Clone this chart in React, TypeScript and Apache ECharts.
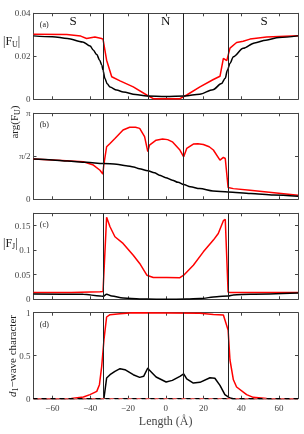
import React, { useEffect, useRef } from "react";
import * as echarts from "echarts";

// ---- data ----
const boundaries = [-33, -9.5, 9.5, 33];
const xTicks = [-60, -40, -20, 0, 20, 40, 60];

const fuBlack = [[-70,0.0295],[-60,0.0291],[-52,0.0283],[-44,0.0267],[-40,0.0248],[-38.4,0.0229],[-36.5,0.0208],[-35,0.0182],[-33.8,0.0158],[-33.2,0.0135],[-32.2,0.0097],[-31,0.0072],[-29.5,0.0057],[-26,0.0043],[-22.5,0.0034],[-16,0.0022],[-10,0.0015],[0,0.0013],[10,0.0015],[18,0.0024],[25,0.0045],[29.5,0.0073],[31.5,0.0098],[32.6,0.0135],[34,0.0167],[35.8,0.0198],[41,0.0237],[47,0.0262],[53,0.0275],[60,0.0288],[70,0.0295]];
const fuRed = [[-70,0.0303],[-52.4,0.0301],[-45,0.0294],[-41.9,0.0283],[-37.5,0.029],[-34,0.0283],[-33.2,0.028],[-31.3,0.0182],[-28.6,0.0105],[-24.2,0.0086],[-17.2,0.0058],[-10.1,0.002],[-6.6,0.0003],[7.5,0.0003],[11.1,0.002],[18.1,0.0058],[25.2,0.0092],[28.7,0.0107],[30.5,0.019],[32.3,0.018],[34,0.0238],[37.5,0.0264],[41,0.027],[44.6,0.028],[53.4,0.029],[70,0.0296]];

const argBlack = [[-70,1.47],[-60,1.44],[-52,1.40],[-42,1.35],[-33,1.31],[-26,1.28],[-21,1.23],[-17,1.18],[-14,1.12],[-9.5,1.04],[-6,0.97],[-3.4,0.88],[0,0.79],[3.5,0.70],[6.5,0.62],[9.5,0.54],[13,0.46],[18,0.39],[25,0.305],[33,0.27],[45,0.21],[57,0.16],[70,0.11]];
const argRed = [[-70,1.47],[-55,1.42],[-43.6,1.37],[-38.3,1.25],[-34.8,1.06],[-33.3,0.92],[-32.8,1.25],[-31.3,1.92],[-29.5,2.04],[-26.9,2.22],[-22.6,2.53],[-19.1,2.63],[-16,2.63],[-13.8,2.59],[-11.2,2.29],[-9.5,1.74],[-8.6,1.98],[-5.1,2.16],[-1.7,2.2],[1,2.18],[3.5,2.10],[7.5,1.80],[9.5,1.55],[11.1,1.86],[14.6,2.02],[17,2.03],[19.9,2.0],[23,1.92],[25.2,1.80],[28.7,1.43],[30.5,1.53],[31.5,1.49],[33,0.43],[35.8,0.39],[44.6,0.33],[70,0.15]];

const fjBlack = [[-70,0.0109],[-43.6,0.0102],[-34.8,0.0068],[-33.2,0.0061],[-31.3,0.0102],[-28.6,0.0068],[-22.6,0.0027],[-13.8,0.0007],[-10,0.0004],[0,0.0003],[11,0.0004],[18.1,0.0014],[27,0.0054],[33,0.0068],[35.8,0.0088],[45,0.0105],[70,0.0129]];
const fjRed = [[-70,0.0136],[-50,0.0138],[-34.8,0.0156],[-33.2,0.016],[-31.3,0.1668],[-29.5,0.1477],[-26.9,0.1273],[-22.6,0.1137],[-17.2,0.0898],[-13.8,0.0729],[-10,0.049],[-6.6,0.0442],[0.5,0.0446],[7.5,0.044],[9.5,0.049],[14.6,0.0694],[19.9,0.0966],[25.2,0.1205],[27.8,0.134],[30.5,0.16],[31.5,0.1627],[33,0.015],[34,0.0136],[70,0.014]];

const dBlack = [[-70,0],[-33.2,0],[-32.7,0.005],[-31.3,0.24],[-29.5,0.279],[-26.9,0.318],[-24.2,0.349],[-21.6,0.337],[-17.2,0.279],[-13.8,0.248],[-11.7,0.26],[-9.5,0.357],[-8.6,0.33],[-5.1,0.252],[0.2,0.194],[3.5,0.213],[7.5,0.26],[9.5,0.29],[11.1,0.23],[14.6,0.182],[18.1,0.19],[23.4,0.244],[26,0.238],[28.7,0.155],[31.3,0.047],[34,0.008],[35.8,0],[70,0]];
const dRed = [[-70,0],[-50,0.002],[-43.6,0.02],[-40.1,0.047],[-36.5,0.085],[-35.1,0.163],[-33.9,0.376],[-32.7,0.686],[-31.3,0.95],[-29.5,0.977],[-24.2,0.988],[-17.2,1.0],[18.1,0.995],[25.2,0.98],[30.5,0.973],[33,0.8],[34,0.45],[35.8,0.22],[37.5,0.136],[42.8,0.047],[46.3,0.016],[53.4,0.003],[70,0]];
const dZeroBlack = [[-70,0],[70,0]];
const dZeroRed = [[-70,0],[70,0]];

const yMax = [0.04, Math.PI, 0.175, 1];
const yTicks = [[0, 0.02, 0.04], [0, Math.PI / 2, Math.PI], [0, 0.05, 0.1, 0.15], [0, 0.5, 1]];
const yTickLabels = [["0", "0.02", "0.04"], ["0", "π/2", "π"], ["0", "0.05", "0.1", "0.15"], ["0", "0.5", "1"]];
const panelLetters = ["(a)", "(b)", "(c)", "(d)"];
const regionLabels = [["S", -49], ["N", 0], ["S", 52]];

const RED = "#ff0000";
const FRAME = "#444";
const FONT = "'Liberation Serif', 'DejaVu Serif', serif";

export default function App() {
  const ref = useRef<HTMLDivElement>(null);
  useEffect(() => {
    if (!ref.current) return;
    const chart = echarts.init(ref.current, undefined, { renderer: "svg" });
    const tops = [13.3, 113.3, 213.3, 312.7];
    const gridH = 86;
    const grids = tops.map((t) => ({ left: 33.5, right: 6, top: t, height: gridH }));
    const xAxes: any[] = [];
    const yAxes: any[] = [];
    for (let pos = 0; pos < 2; pos++) {
      for (let i = 0; i < 4; i++) {
        xAxes.push({
          type: "value", gridIndex: i, min: -70, max: 70,
          position: pos === 0 ? "bottom" : "top",
          axisLine: { show: true, onZero: false, lineStyle: { color: FRAME, width: 1 } },
          axisTick: { show: true, inside: true, length: 3, customValues: xTicks, lineStyle: { color: FRAME } },
          axisLabel: {
            show: pos === 0 && i === 3, customValues: xTicks, fontFamily: FONT, fontSize: 9, color: "#444", margin: 5,
            formatter: (v: number) => (v < 0 ? "\u2212" + Math.abs(v) : String(v)),
          },
          splitLine: { show: false },
        });
        yAxes.push({
          type: "value", gridIndex: i, min: 0, max: yMax[i],
          position: pos === 0 ? "left" : "right",
          axisLine: { show: true, onZero: false, lineStyle: { color: FRAME, width: 1 } },
          axisTick: { show: true, inside: true, length: 3, customValues: yTicks[i], lineStyle: { color: FRAME } },
          axisLabel: {
            show: pos === 0, customValues: yTicks[i], fontFamily: FONT, fontSize: 9, color: "#444", margin: 3,
            formatter: (v: number) => {
              const idx = yTicks[i].findIndex((t) => Math.abs(t - v) < 1e-6);
              return idx >= 0 ? yTickLabels[i][idx] : "";
            },
          },
          splitLine: { show: false },
        });
      }
    }
    const line = (data: number[][], i: number, color: string, extra: any = {}) => ({
      type: "line", xAxisIndex: i, yAxisIndex: i, data, showSymbol: false, symbol: "none",
      lineStyle: { color, width: 1.5 }, z: color === RED ? 3 : 4, ...extra,
    });
    const vlines = {
      silent: true, symbol: "none", label: { show: false },
      lineStyle: { color: "#222", width: 1, type: "solid" },
      data: boundaries.map((b) => ({ xAxis: b })),
    };
    const smooth = { smooth: 0.3, smoothMonotone: "x" };
    const series: any[] = [
      line(fuRed, 0, RED), line(fuBlack, 0, "#000", { markLine: vlines, ...smooth }),
      line(argRed, 1, RED), line(argBlack, 1, "#000", { markLine: vlines, ...smooth }),
      line(fjRed, 2, RED), line(fjBlack, 2, "#000", { markLine: vlines, ...smooth }),
      line(dRed, 3, RED),
      line(dBlack, 3, "#000", { markLine: vlines }),
      line(dZeroBlack, 3, "#000", { lineStyle: { color: "#000", width: 1.5, type: [5, 4] }, z: 5 }),
      line(dZeroRed, 3, RED, { lineStyle: { color: "#e05050", width: 1.5, type: [4, 5], dashOffset: 4.5 }, z: 6 }),
    ];
    const graphics: any[] = [];
    panelLetters.forEach((t, i) => {
      graphics.push({ type: "text", x: 44.3, y: tops[i] + 11.5, style: { text: t, font: `8px ${FONT}`, fill: "#222", align: "center", verticalAlign: "middle" } });
    });
    const sub = { fontSize: 8, fontFamily: FONT, fill: "#222", padding: [7, 0, 0, 0] };
    const main = { fontSize: 12, fontFamily: FONT, fill: "#222" };
    graphics.push({ type: "text", x: 3, y: 41, style: { text: "{m||F}{s|U}{m||}", rich: { m: main, s: sub }, verticalAlign: "middle" } });
    graphics.push({ type: "text", x: 3, y: 243, style: { text: "{m||F}{s|J}{m||}", rich: { m: main, s: sub }, verticalAlign: "middle" } });
    graphics.push({ type: "text", x: 14, y: 122, rotation: Math.PI / 2, style: { text: "{m|arg(F}{s|U}{m|)}", rich: { m: { ...main, fontSize: 11 }, s: sub }, align: "center", verticalAlign: "middle" } });
    graphics.push({ type: "text", x: 12, y: 356, rotation: Math.PI / 2, style: { text: "{i|d}{s|1}{m|\u2212wave character}", rich: { i: { ...main, fontSize: 11, fontStyle: "italic" }, m: { ...main, fontSize: 11 }, s: sub }, align: "center", verticalAlign: "middle" } });
    graphics.push({ type: "text", x: 165.7, y: 421, style: { text: "Length (Å)", font: `12px ${FONT}`, fill: "#444", align: "center", verticalAlign: "middle" } });
    chart.setOption({
      animation: false,
      grid: grids,
      xAxis: xAxes,
      yAxis: yAxes,
      series,
    });
    regionLabels.forEach(([t, xv]) => {
      const p = chart.convertToPixel({ xAxisIndex: 0, yAxisIndex: 0 } as any, [xv as number, 0.0367]) as number[];
      graphics.push({ type: "text", x: p[0], y: p[1], style: { text: t as string, font: `13px ${FONT}`, fill: "#111", align: "center", verticalAlign: "middle" } });
    });
    chart.setOption({ graphic: graphics });
    return () => chart.dispose();
  }, []);
  return <div ref={ref} style={{ position: "fixed", left: 0, top: 0, width: 304, height: 434 }} />;
}
